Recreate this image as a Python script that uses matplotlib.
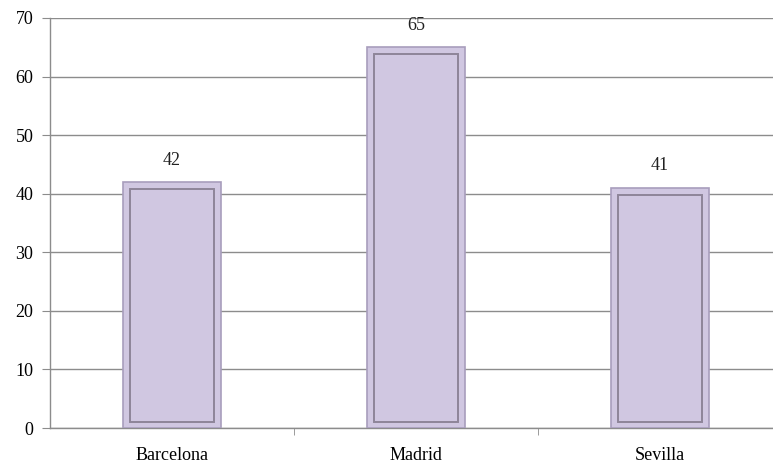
import matplotlib
matplotlib.use("Agg")
import matplotlib.pyplot as plt
import numpy as np

# ── data ─────────────────────────────────────────────────────────────────────
cities = ["Barcelona", "Madrid", "Sevilla"]
values = [42, 65, 41]

# ── colours ──────────────────────────────────────────────────────────────────
C_FACE  = "#D0C7E1"
C_EDGE  = "#A89DBC"
C_INNER = "#8E8599"
C_GRID  = "#8C8C8C"

plt.rcParams["font.family"] = ["Liberation Serif", "DejaVu Serif"]

fig = plt.figure(figsize=(7.73, 4.65), dpi=100)
ax = fig.add_axes([50 / 773, 1 - 428 / 465, 732 / 773, 410 / 465])

x = np.arange(len(cities))
vals = np.array(values, dtype=float)
bar_w = 0.40

# outer bevel frame
ax.bar(x, vals, bar_w, color=C_FACE, edgecolor=C_EDGE, linewidth=1.2, zorder=3)
# inner panel (darker edge to suggest the bevel)
inner_w = bar_w * 0.86
ax.bar(x, vals - 2.2, inner_w, bottom=1.0, color=C_FACE,
       edgecolor=C_INNER, linewidth=1.4, zorder=4)
ax.bar(x + 0.004, vals - 2.6, inner_w * 0.95, bottom=1.2, color=C_FACE,
       edgecolor="none", zorder=5)

for xi, v in zip(x, vals):
    ax.text(xi, v + 2.3, f"{v:.0f}", ha="center", va="bottom", fontsize=13,
            color="#222222")

ax.set_xlim(-0.5, len(cities) - 0.5)
ax.set_ylim(0, 70)
ax.set_yticks(range(0, 71, 10))
ax.set_xticks(x)
ax.set_xticklabels(cities, fontsize=13)
ax.set_xticks(x[:-1] + 0.5, minor=True)
ax.tick_params(axis="x", which="major", length=0, pad=14)
ax.tick_params(axis="x", which="minor", length=5, color=C_GRID, direction="out")
ax.tick_params(axis="y", length=6, color=C_GRID, labelsize=13, pad=6,
               direction="out")
for lab in ax.get_xticklabels():
    lab.set_fontstretch("expanded")

ax.yaxis.grid(True, color=C_GRID, linewidth=1.0, zorder=0)
ax.set_axisbelow(True)
for side in ("top", "right"):
    ax.spines[side].set_visible(False)
for side in ("left", "bottom"):
    ax.spines[side].set_color(C_GRID)
    ax.spines[side].set_linewidth(1.0)

fig.savefig("out.png", dpi=100)
